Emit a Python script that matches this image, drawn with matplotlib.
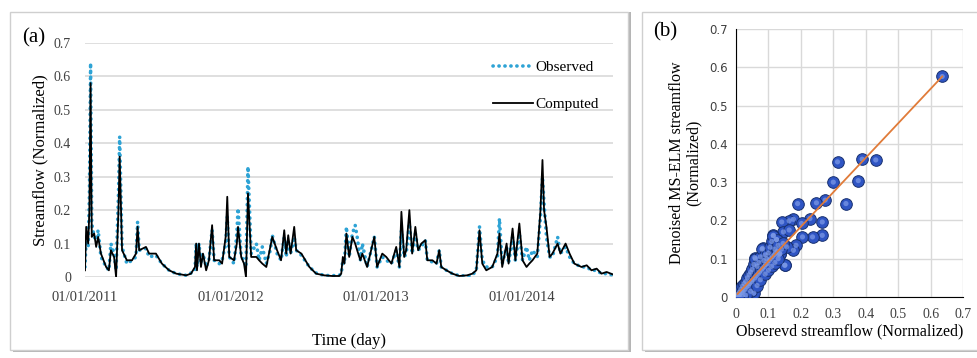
import matplotlib
matplotlib.use("Agg")
import matplotlib.pyplot as plt
from matplotlib.patches import Rectangle

# ---- panel (a): daily streamflow, days counted from 01/01/2011 ----
days = [0, 3, 8, 11, 14, 17, 23, 28, 33, 40, 53, 60, 65, 73, 78, 84, 87, 93, 105, 118,
        128, 132, 136, 153, 161, 178, 193, 211, 229, 254, 266, 276, 279, 281, 286, 291, 296, 304, 311, 319,
        324, 337, 344, 353, 357, 362, 374, 381, 384, 392, 399, 404, 409, 417, 430, 437, 445, 455, 465, 470,
        482, 492, 500, 505, 510, 516, 525, 530, 543, 563, 580, 600, 620, 638, 643, 647, 651, 656, 663, 671,
        678, 683, 691, 696, 708, 726, 733, 746, 756, 769, 781, 789, 794, 801, 806, 814, 821, 829, 836, 844,
        854, 859, 872, 882, 889, 894, 907, 922, 939, 959, 972, 982, 990, 997, 1007, 1022, 1035, 1040, 1047, 1058,
        1063, 1073, 1080, 1090, 1098, 1108, 1115, 1123, 1135, 1143, 1148, 1152, 1158, 1166, 1173, 1186, 1193, 1206, 1216, 1228,
        1246, 1259, 1271, 1284, 1296, 1309, 1324]
computed = [0.02, 0.15, 0.10, 0.20, 0.58, 0.12, 0.13, 0.09, 0.12, 0.07, 0.03, 0.02, 0.08, 0.06, 0.0, 0.20, 0.36, 0.08, 0.05, 0.05,
            0.07, 0.15, 0.08, 0.09, 0.07, 0.07, 0.04, 0.02, 0.01, 0.005, 0.01, 0.03, 0.10, 0.02, 0.10, 0.03, 0.07, 0.02, 0.05, 0.155,
            0.05, 0.05, 0.04, 0.12, 0.24, 0.06, 0.05, 0.10, 0.15, 0.06, 0.04, 0.0, 0.25, 0.06, 0.06, 0.05, 0.04, 0.03, 0.09, 0.12,
            0.08, 0.05, 0.14, 0.07, 0.125, 0.07, 0.15, 0.08, 0.07, 0.03, 0.01, 0.005, 0.003, 0.003, 0.01, 0.06, 0.04, 0.13, 0.06, 0.12,
            0.10, 0.08, 0.05, 0.07, 0.03, 0.12, 0.03, 0.07, 0.06, 0.04, 0.09, 0.03, 0.195, 0.06, 0.08, 0.20, 0.07, 0.15, 0.08, 0.10,
            0.11, 0.05, 0.05, 0.04, 0.08, 0.03, 0.02, 0.01, 0.003, 0.005, 0.01, 0.02, 0.14, 0.04, 0.02, 0.03, 0.07, 0.13, 0.03, 0.10,
            0.04, 0.145, 0.05, 0.16, 0.05, 0.03, 0.04, 0.05, 0.07, 0.20, 0.35, 0.20, 0.15, 0.06, 0.07, 0.10, 0.07, 0.10, 0.07, 0.04,
            0.03, 0.035, 0.02, 0.025, 0.01, 0.015, 0.008]
observed = [0.03, 0.12, 0.09, 0.24, 0.64, 0.16, 0.12, 0.11, 0.14, 0.06, 0.03, 0.02, 0.10, 0.07, 0.02, 0.25, 0.42, 0.09, 0.04, 0.05,
            0.06, 0.165, 0.08, 0.085, 0.06, 0.065, 0.04, 0.02, 0.01, 0.005, 0.012, 0.02, 0.10, 0.03, 0.10, 0.04, 0.07, 0.03, 0.05, 0.14,
            0.05, 0.04, 0.05, 0.10, 0.18, 0.06, 0.04, 0.13, 0.205, 0.06, 0.05, 0.03, 0.33, 0.07, 0.10, 0.05, 0.09, 0.04, 0.08, 0.125,
            0.07, 0.05, 0.12, 0.06, 0.11, 0.07, 0.12, 0.08, 0.065, 0.03, 0.012, 0.005, 0.004, 0.005, 0.01, 0.05, 0.04, 0.15, 0.06, 0.13,
            0.155, 0.12, 0.05, 0.10, 0.03, 0.12, 0.03, 0.06, 0.05, 0.04, 0.08, 0.03, 0.14, 0.06, 0.07, 0.16, 0.07, 0.13, 0.08, 0.09,
            0.11, 0.05, 0.045, 0.04, 0.08, 0.03, 0.02, 0.01, 0.004, 0.003, 0.005, 0.02, 0.15, 0.05, 0.03, 0.03, 0.06, 0.175, 0.04, 0.09,
            0.04, 0.12, 0.05, 0.13, 0.05, 0.09, 0.05, 0.08, 0.06, 0.18, 0.30, 0.22, 0.12, 0.06, 0.06, 0.12, 0.07, 0.09, 0.06, 0.04,
            0.03, 0.03, 0.02, 0.02, 0.01, 0.01, 0.006]
tick_days = [0, 365, 731, 1096]
tick_labels = ["01/01/2011", "01/01/2012", "01/01/2013", "01/01/2014"]

# ---- panel (b): observed vs denoised MS-ELM ----
sc_obs = [0.636, 0.431, 0.389, 0.377, 0.313, 0.300, 0.339, 0.275, 0.248, 0.266, 0.266, 0.236, 0.205, 0.190, 0.177,
          0.164, 0.228, 0.202, 0.141, 0.146, 0.164, 0.115, 0.125, 0.185, 0.177, 0.156, 0.151, 0.135, 0.082, 0.058,
          0.000, 0.003, 0.005, 0.008, 0.010, 0.012, 0.015, 0.018, 0.020, 0.022, 0.025, 0.028, 0.030, 0.032, 0.035,
          0.038, 0.040, 0.042, 0.045, 0.048, 0.050, 0.052, 0.055, 0.058, 0.060, 0.062, 0.065, 0.068, 0.070, 0.072,
          0.075, 0.078, 0.080, 0.082, 0.085, 0.088, 0.090, 0.092, 0.095, 0.098, 0.100, 0.102, 0.105, 0.108, 0.110,
          0.112, 0.115, 0.118, 0.120, 0.122, 0.125, 0.128, 0.130, 0.132, 0.135, 0.140, 0.145, 0.150, 0.055, 0.045,
          0.030, 0.065, 0.075, 0.090, 0.100, 0.110, 0.120, 0.130, 0.010, 0.020, 0.005]
sc_sim = [0.576, 0.358, 0.360, 0.304, 0.353, 0.300, 0.244, 0.253, 0.246, 0.196, 0.161, 0.157, 0.157, 0.244, 0.203,
          0.199, 0.205, 0.192, 0.196, 0.170, 0.175, 0.161, 0.150, 0.135, 0.122, 0.131, 0.083, 0.113, 0.127, 0.103,
          0.000, 0.002, 0.006, 0.004, 0.012, 0.008, 0.020, 0.012, 0.028, 0.015, 0.035, 0.020, 0.040, 0.026, 0.050,
          0.030, 0.058, 0.035, 0.065, 0.040, 0.072, 0.045, 0.085, 0.050, 0.100, 0.055, 0.080, 0.060, 0.090, 0.065,
          0.105, 0.070, 0.125, 0.075, 0.095, 0.080, 0.110, 0.085, 0.100, 0.088, 0.115, 0.095, 0.130, 0.100, 0.145,
          0.105, 0.160, 0.110, 0.125, 0.115, 0.150, 0.120, 0.135, 0.110, 0.113, 0.125, 0.140, 0.083, 0.010, 0.015,
          0.005, 0.030, 0.045, 0.060, 0.070, 0.080, 0.090, 0.100, 0.000, 0.002, 0.000]
fit_x = [0.005, 0.636]
fit_y = [0.008, 0.576]
b_ticks = [0, 0.1, 0.2, 0.3, 0.4, 0.5, 0.6, 0.7]
b_labels = ["0", "0.1", "0.2", "0.3", "0.4", "0.5", "0.6", "0.7"]

SERIF = "Liberation Serif"
GRID = "#d9d9d9"
W, H = 978, 358

fig = plt.figure(figsize=(9.78, 3.58), dpi=100)

# chart frames (Excel style boxes with a soft shadow on the right)
for x0, x1 in [(10, 628), (642, 990)]:
    fig.patches.append(Rectangle((x0 / W + 0.003, (H - 352) / H), (x1 - x0) / W, (352 - 12) / H,
                                 transform=fig.transFigure, facecolor="#b5b5b5", edgecolor="none", zorder=-3))
    fig.patches.append(Rectangle((x0 / W, (H - 350) / H), (x1 - x0) / W, (350 - 12) / H,
                                 transform=fig.transFigure, facecolor="white", edgecolor="#cfcfcf",
                                 lw=1.0, zorder=-2))

# ---- (a) time series ----
ax = fig.add_axes([85 / W, 1 - 277 / H, 528 / W, 234 / H])
ax.patch.set_alpha(0)
ax.plot(days, observed, color="#2ea3d5", lw=2.6, linestyle=(0, (0.05, 1.6)),
        dash_capstyle="round", label="Observed")
ax.plot(days, computed, color="black", lw=1.3, label="Computed")
ax.set_xlim(0, 1325)
ax.set_ylim(0, 0.7)
ax.set_yticks(b_ticks)
ax.set_yticklabels(b_labels, fontfamily=SERIF, fontsize=10, color="#404040")
ax.set_xticks(tick_days)
ax.set_xticklabels(tick_labels, fontfamily=SERIF, fontsize=10.5, color="#404040")
ax.tick_params(axis="y", length=0, pad=10)
ax.tick_params(axis="x", length=0, pad=10)
ax.grid(axis="y", color=GRID, lw=1.2)
ax.set_axisbelow(True)
for s in ax.spines.values():
    s.set_visible(False)
ax.set_ylabel("Streamflow (Normalized)", fontfamily=SERIF, fontsize=12, labelpad=4)
ax.set_xlabel("Time (day)", fontfamily=SERIF, fontsize=12, labelpad=21)
ax.legend(loc="upper right", bbox_to_anchor=(1.0, 0.985), frameon=False, handlelength=2.6,
          handletextpad=0.2, labelspacing=1.55, prop={"family": SERIF, "size": 11})
fig.text(22 / W, 1 - 38 / H, "(a)", fontfamily=SERIF, fontsize=15, va="center")

# ---- (b) scatter ----
bx = fig.add_axes([736 / W, 1 - 297 / H, 227 / W, 268 / H])
bx.patch.set_alpha(0)
bx.scatter(sc_obs, sc_sim, s=70, color="#2f55c4", edgecolors="#17306f", linewidths=0.7, zorder=3)
bx.scatter(sc_obs, sc_sim, s=14, color="#7f9ce8", edgecolors="none", zorder=4, alpha=0.7)
bx.plot(fit_x, fit_y, color="#e07b39", lw=1.3, zorder=5)
bx.set_xlim(0, 0.7)
bx.set_ylim(0, 0.7)
bx.set_xticks(b_ticks)
bx.set_yticks(b_ticks)
bx.set_xticklabels(b_labels, fontfamily=SERIF, fontsize=10, color="#404040")
bx.set_yticklabels(b_labels, fontfamily="DejaVu Sans", fontsize=8.5, color="#404040")
bx.tick_params(axis="x", length=0, pad=8)
bx.tick_params(axis="y", length=0, pad=6)
bx.grid(color=GRID, lw=1.0)
bx.set_axisbelow(True)
bx.spines["top"].set_visible(False)
bx.spines["right"].set_visible(False)
bx.spines["left"].set_color("black")
bx.spines["bottom"].set_color("black")
bx.set_ylabel("Denoised MS-ELM streamflow\n(Normalized)", fontfamily=SERIF, fontsize=11.5, labelpad=5,
              linespacing=1.1)
bx.set_xlabel("Obserevd streamflow (Normalized)", fontfamily=SERIF, fontsize=11.5, labelpad=2)
fig.text(653 / W, 1 - 32 / H, "(b)", fontfamily=SERIF, fontsize=15, va="center")

fig.savefig("out.png", dpi=100)
